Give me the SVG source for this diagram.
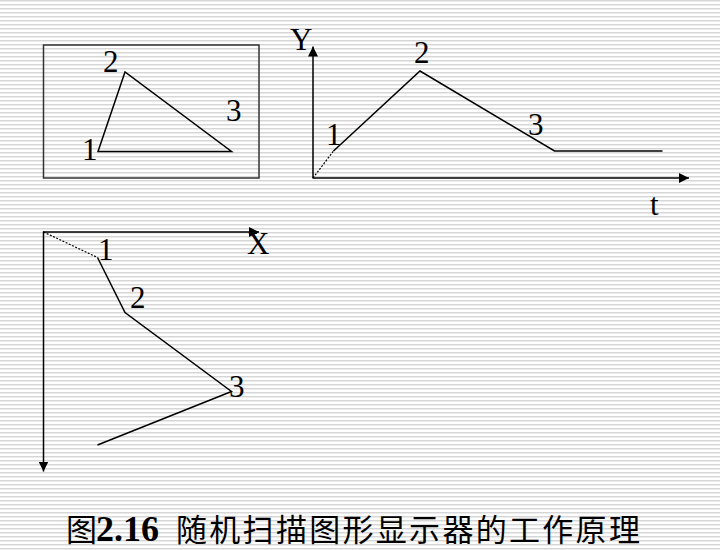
<svg xmlns="http://www.w3.org/2000/svg" width="720" height="550" viewBox="0 0 720 550">
<defs>
<pattern id="stripes" x="0" y="0" width="8" height="4" patternUnits="userSpaceOnUse">
<rect x="0" y="0" width="8" height="4" fill="#ffffff"/>
<rect x="0" y="0" width="8" height="1" fill="#d6d6d6"/>
<rect x="0" y="1" width="8" height="1" fill="#ececec"/>
</pattern>
<marker id="arr" viewBox="0 0 10 10" refX="10" refY="5" markerWidth="10" markerHeight="10" markerUnits="userSpaceOnUse" orient="auto">
<path d="M0,0 L10,5 L0,10 Z" fill="#000"/>
</marker>
<style>
.ln{fill:none;stroke:#000;stroke-width:1.5}
.dot{fill:none;stroke:#000;stroke-width:1.2;stroke-dasharray:2 1.5}
.ax{fill:none;stroke:#000;stroke-width:1.5;marker-end:url(#arr)}
.lb{font-family:"Liberation Serif","Times New Roman",serif;font-size:31px;fill:#000}
.cap{font-family:"Noto Sans CJK SC","Noto Sans",sans-serif;font-size:31px;fill:#000}
.capn{font-family:"Liberation Serif","Times New Roman",serif;font-size:36px;font-weight:bold;fill:#000}
</style>
</defs>
<rect x="0" y="0" width="720" height="550" fill="url(#stripes)"/>

<g id="screen">
<rect x="43.5" y="45" width="215.5" height="133" fill="none" stroke="#333" stroke-width="1.5"/>
<path class="ln" d="M98,151.5 L125,72 L231.5,151.5 Z"/>
<text class="lb" x="82" y="160">1</text>
<text class="lb" x="103" y="72">2</text>
<text class="lb" x="226" y="121">3</text>
</g>

<g id="y-t-chart">
<line class="ax" x1="313" y1="178" x2="313" y2="46.5"/>
<line class="ax" x1="312.5" y1="178" x2="689" y2="178"/>
<path class="dot" d="M313,178 L333.5,151"/>
<path class="ln" d="M333.5,151 L420,71 L554.5,151 L662.5,151"/>
<text class="lb" x="290" y="50">Y</text>
<text class="lb" x="414" y="63">2</text>
<text class="lb" x="326" y="145">1</text>
<text class="lb" x="528" y="135">3</text>
<text class="lb" x="650" y="215">t</text>
</g>

<g id="x-y-chart">
<line class="ax" x1="43.5" y1="231.5" x2="43.5" y2="471.5"/>
<line class="ax" x1="43" y1="232" x2="259" y2="232"/>
<path class="dot" d="M43.5,232 L97.5,257.5"/>
<path class="ln" d="M97.5,257.5 L125,312.5 L231.5,391.5 L97.5,445"/>
<text class="lb" x="247" y="254">X</text>
<text class="lb" x="98" y="260">1</text>
<text class="lb" x="130" y="308">2</text>
<text class="lb" x="229" y="397">3</text>
</g>

<g id="caption">
<text class="cap" x="66" y="541">图</text>
<text class="capn" x="96" y="541">2.16</text>
<text class="cap" x="176" y="541" letter-spacing="2.3">随机扫描图形显示器的工作原理</text>
</g>
</svg>
